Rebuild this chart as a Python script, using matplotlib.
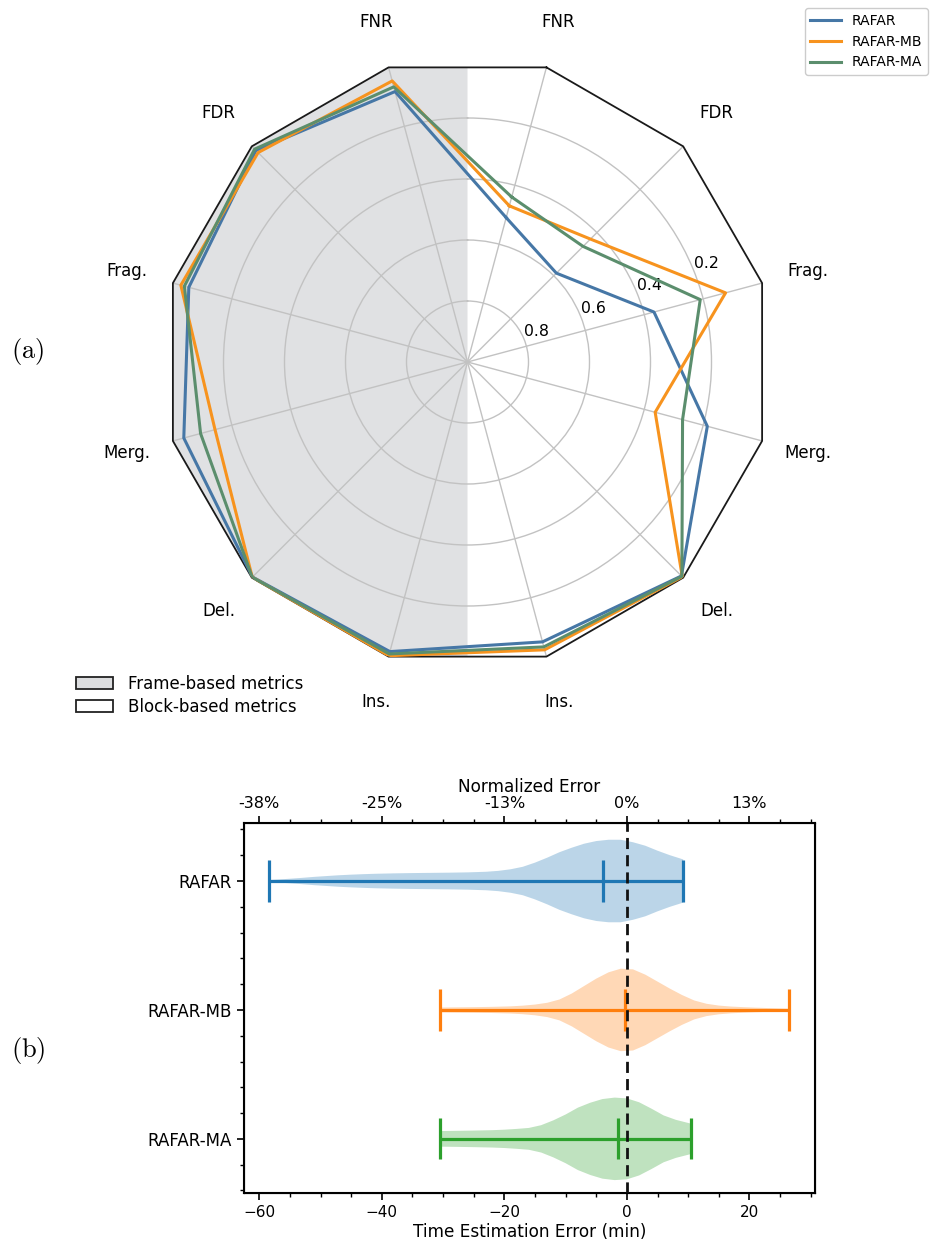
import numpy as np
import matplotlib
matplotlib.use('Agg')
import matplotlib.pyplot as plt
from matplotlib.patches import Patch
from matplotlib.ticker import MultipleLocator

plt.rcParams['font.family'] = ['DejaVu Sans']
plt.rcParams['mathtext.fontset'] = 'cm'

# ---------------- data: radar (a) ----------------
metrics = ['FNR', 'FDR', 'Frag.', 'Merg.', 'Del.', 'Ins.']
series_names = ['RAFAR', 'RAFAR-MB', 'RAFAR-MA']
# frame-based metrics (left half)
frame_rafar = [0.082, 0.019, 0.054, 0.037, 0.003, 0.017]
frame_mb = [0.046, 0.029, 0.027, 0.143, 0.002, 0.003]
frame_ma = [0.066, 0.013, 0.039, 0.094, 0.002, 0.009]
# block-based metrics (right half)
block_rafar = [0.51, 0.588, 0.367, 0.186, 0.008, 0.050]
block_mb = [0.47, 0.43, 0.124, 0.363, 0.004, 0.023]
block_ma = [0.44, 0.464, 0.21, 0.27, 0.006, 0.033]
r_ticks = [0.2, 0.4, 0.6, 0.8]
r_tick_labels = ['0.2', '0.4', '0.6', '0.8']

# ---------------- data: violins (b) ----------------
violin_names = ['RAFAR', 'RAFAR-MB', 'RAFAR-MA']
rafar_coords = [-58.5, -57, -55, -53, -51, -49, -47, -45, -43, -41, -38, -35, -32, -29, -26, -23,
                -21, -19, -17, -15, -13, -11, -9, -7, -5, -3, -1, 1, 3, 5, 7, 9.2]
rafar_dens = [1.0, 1.5, 2.3, 3.2, 4.2, 5.0, 5.8, 6.4, 6.9, 7.3, 7.7, 8.0, 8.2, 8.4, 8.7, 9.3,
              10.2, 11.8, 14.3, 18.5, 23.5, 29, 33.5, 37.5, 40.2, 41.5, 41.5, 39, 35.5, 30.5, 26, 21.7]
mb_coords = [-30.5, -28, -25, -22, -19, -17, -15, -13, -11, -9, -7, -5, -3, -1, 1, 3, 5, 7, 9,
             11, 13, 15, 17, 19, 21, 23, 25, 26.5]
mb_dens = [2.4, 2.6, 2.8, 3.1, 3.6, 4.3, 5.4, 7.2, 10.5, 16.5, 24, 31.5, 37.8, 41.5, 40.8, 35.5,
           28.5, 21.5, 15, 9.5, 6.2, 4.4, 3.4, 2.8, 2.3, 1.9, 1.5, 1.2]
ma_coords = [-30.5, -28, -25, -22, -20, -18, -16, -14, -12, -10, -8, -6, -4, -2, 0, 2, 4, 6, 8, 10.5]
ma_dens = [8, 8.2, 8.5, 8.9, 9.4, 10.2, 11.2, 14, 19, 25, 32, 37, 40.8, 42.3, 41.5, 37.5, 31,
           24, 19.5, 15.5]
violin_medians = [-3.9, -0.3, -1.5]
x_ticks = [-60, -40, -20, 0, 20]
norm_labels = ['-38%', '-25%', '-13%', '0%', '13%']

# ---------------- figure ----------------
W, H = 932, 1249
fig = plt.figure(figsize=(W / 100, H / 100), dpi=100)

cx, cy, R = 467.5, 362, 305
ax = fig.add_axes([(cx - R) / W, 1 - (cy + R) / H, 2 * R / W, 2 * R / H], projection='polar')
ax.set_theta_zero_location('N')
ax.set_theta_direction(-1)
ax.set_ylim(1, 0)
ax.patch.set_visible(False)
ax.spines['polar'].set_visible(False)

block_angles = [15, 45, 75, 105, 135, 165]
frame_angles = [345, 315, 285, 255, 225, 195]
angles = block_angles + frame_angles[::-1]
theta = np.deg2rad(angles)

ax.set_xticks(theta)
ax.set_xticklabels([])
ax.set_yticks(r_ticks)
ax.set_yticklabels(r_tick_labels, fontsize=11.3)
ax.set_rlabel_position(68)
ax.grid(True, color='#c2c2c2', lw=1)

# gray half (frame-based)
edge = 1 - np.cos(np.deg2rad(15))
g_th = np.deg2rad([180, 195, 225, 255, 285, 315, 345, 360, 360])
g_r = [edge, 0, 0, 0, 0, 0, 0, edge, 1]
ax.fill(g_th, g_r, color='#e0e1e3', lw=0, zorder=0.8)

# polygon frame
th_closed = np.append(theta, theta[0])
ax.plot(th_closed, np.zeros(len(th_closed)), color='#1a1a1a', lw=1.3, clip_on=False, zorder=3)

colors = ['#4677a6', '#f7931e', '#5b8e6d']
data = [(block_rafar, frame_rafar), (block_mb, frame_mb), (block_ma, frame_ma)]
handles = []
for (blk, frm), c, name in zip(data, colors, series_names):
    vals = list(blk) + list(frm)[::-1]
    vals = vals + [vals[0]]
    h, = ax.plot(th_closed, vals, color=c, lw=2.2, label=name, zorder=4)
    handles.append(h)

for a, lab in zip(block_angles, metrics):
    ax.text(np.deg2rad(a), -0.155, lab, ha='center', va='center', fontsize=12, clip_on=False)
for a, lab in zip(frame_angles, metrics):
    ax.text(np.deg2rad(a), -0.155, lab, ha='center', va='center', fontsize=12, clip_on=False)

fig.legend(handles, series_names, loc='upper right', bbox_to_anchor=(928 / W, 1 - 8 / H),
           fontsize=10, borderaxespad=0, handlelength=2.2, framealpha=1, edgecolor='#cccccc')

fig.legend([Patch(facecolor='#dcdddf', edgecolor='#222222', lw=1.3),
            Patch(facecolor='white', edgecolor='#222222', lw=1.3)],
           ['Frame-based metrics', 'Block-based metrics'],
           loc='center left', bbox_to_anchor=(76 / W, 1 - 695.5 / H), frameon=False,
           fontsize=12, borderpad=0, borderaxespad=0, handlelength=2.2, handleheight=0.75,
           handletextpad=0.9, labelspacing=0.3)

fig.text(28 / W, 1 - 352 / H, r'$\mathrm{(a)}$', fontsize=19, ha='center', va='center')
fig.text(28 / W, 1 - 1050 / H, r'$\mathrm{(b)}$', fontsize=19, ha='center', va='center')

# ---------------- violin panel ----------------
axb = fig.add_axes([244 / W, 1 - 1193 / H, (815 - 244) / W, (1193 - 823) / H])
vcolors = ['#1f77b4', '#ff7f0e', '#2ca02c']
positions = [3, 2, 1]
vdata = [(rafar_coords, rafar_dens), (mb_coords, mb_dens), (ma_coords, ma_dens)]
for (co, de), med, pos, c in zip(vdata, violin_medians, positions, vcolors):
    st = dict(coords=np.array(co), vals=np.array(de), mean=med, median=med,
              min=co[0], max=co[-1])
    try:
        parts = axb.violin([st], positions=[pos], orientation='horizontal', widths=0.64,
                           showmedians=True, showextrema=True)
    except TypeError:
        parts = axb.violin([st], positions=[pos], vert=False, widths=0.64,
                           showmedians=True, showextrema=True)
    for b in parts['bodies']:
        b.set_facecolor(c)
        b.set_edgecolor('none')
        b.set_alpha(0.3)
    for k in ('cmins', 'cmaxes', 'cbars', 'cmedians'):
        if k in parts:
            parts[k].set_color(c)
            parts[k].set_linewidth(2.3)

axb.axvline(0, color='#111111', ls=(0, (4, 2.2)), lw=2, zorder=5)
axb.set_xlim(-62.5, 30.7)
axb.set_ylim(0.58, 3.45)
axb.set_xticks(x_ticks)
axb.xaxis.set_minor_locator(MultipleLocator(5))
axb.set_yticks(positions)
axb.set_yticklabels(violin_names, fontsize=12)
axb.yaxis.set_minor_locator(MultipleLocator(0.2))
axb.tick_params(axis='x', labelsize=11)
axb.tick_params(which='major', length=5, width=1.2)
axb.tick_params(which='minor', length=3, width=1)
axb.set_xlabel('Time Estimation Error (min)', fontsize=12.2, labelpad=2)
for s in axb.spines.values():
    s.set_linewidth(1.5)

ax2 = axb.twiny()
ax2.set_xlim(axb.get_xlim())
ax2.set_xticks(x_ticks)
ax2.set_xticklabels(norm_labels, fontsize=11.5)
ax2.xaxis.set_minor_locator(MultipleLocator(5))
ax2.tick_params(which='major', length=5, width=1.2)
ax2.tick_params(which='minor', length=3, width=1)
ax2.set_xlabel('Normalized Error', fontsize=12.2, labelpad=3)

fig.savefig('out.png', dpi=100)
